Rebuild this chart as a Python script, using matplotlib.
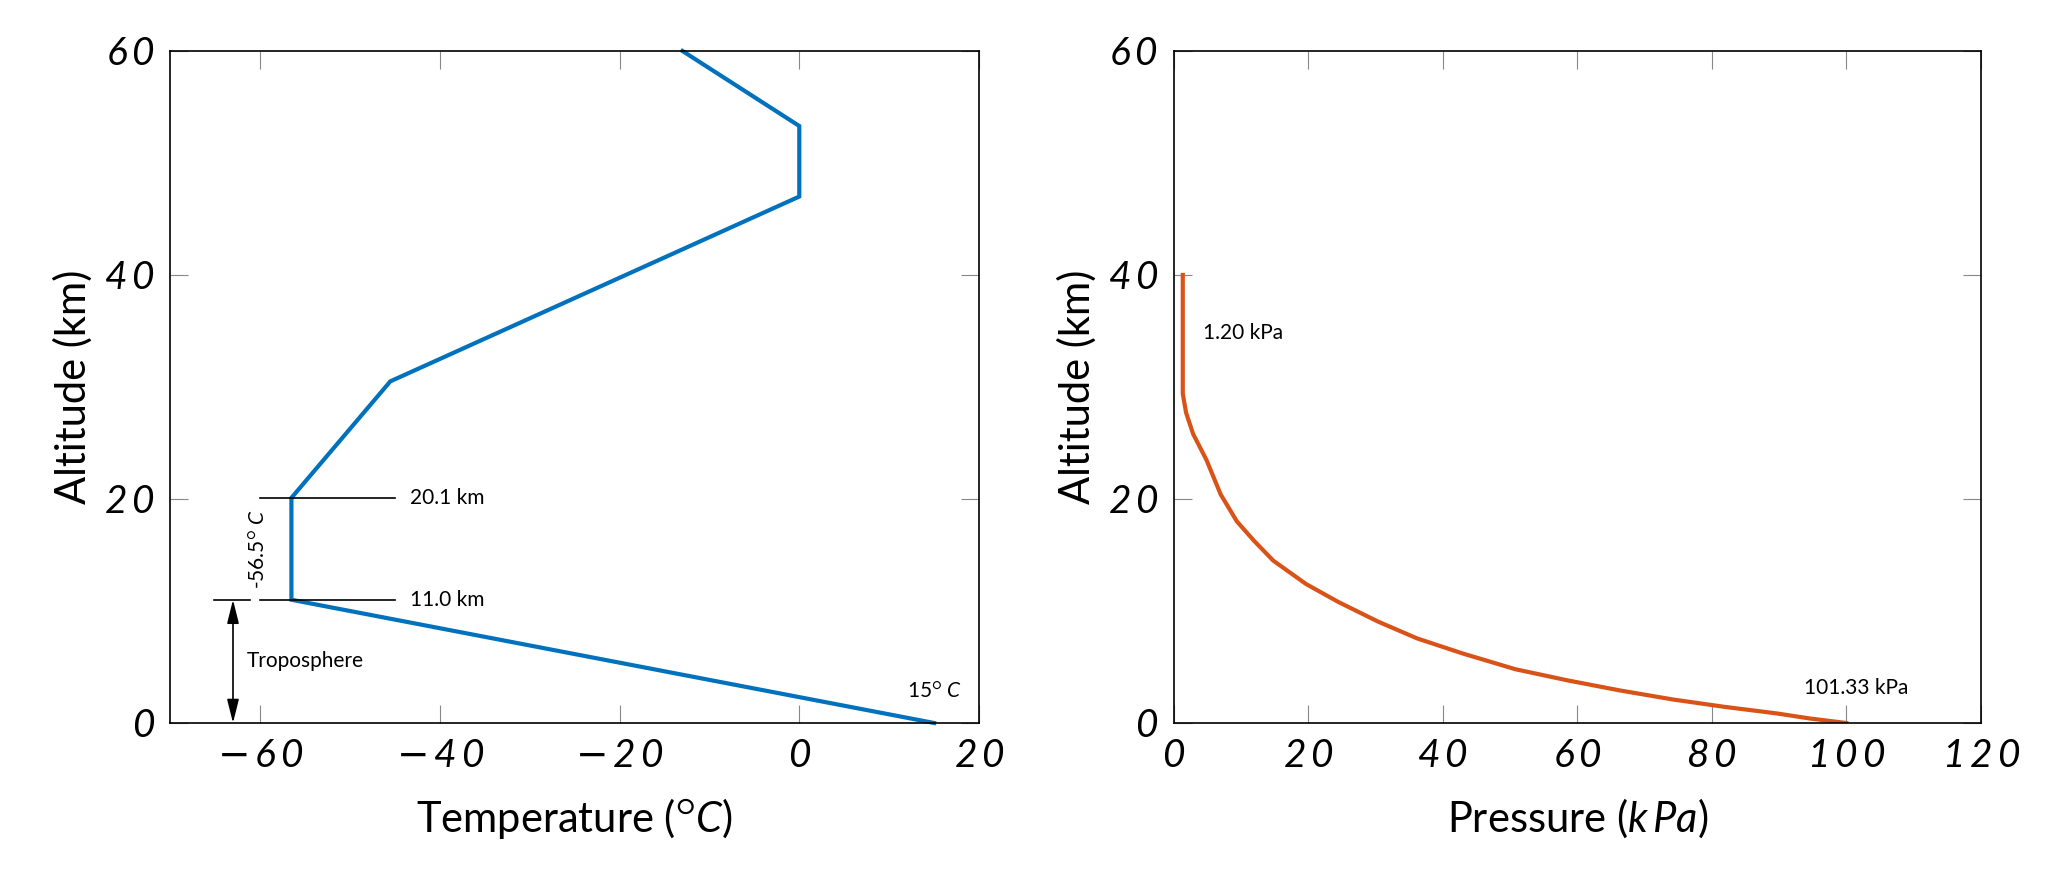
import matplotlib
matplotlib.use("Agg")
import matplotlib.pyplot as plt

plt.rcParams["font.family"] = ["Lato", "DejaVu Sans"]
plt.rcParams["mathtext.fontset"] = "custom"
# math digits in the original are italic, so roman math maps to Lato italic too
plt.rcParams["mathtext.rm"] = "Lato:italic"
plt.rcParams["mathtext.it"] = "Lato:italic"
plt.rcParams["mathtext.sf"] = "DejaVu Sans"

# temperature profile (deg C vs km)
temp_c = [15.0, -56.5, -56.5, -45.5, 0.0, 0.0, -13.0]
temp_alt = [0.0, 11.0, 20.1, 30.5, 47.0, 53.3, 60.0]

# pressure profile (kPa vs km)
pres_kpa = [100.0, 94.6, 89.7, 81.9, 74.2, 66.4, 58.6, 50.8, 43.0, 36.2,
            30.4, 24.5, 19.7, 14.8, 11.9, 9.4, 7.0, 4.87, 2.9, 1.85, 1.36, 1.36]
pres_alt = [0.0, 0.4, 0.85, 1.44, 2.1, 2.9, 3.8, 4.8, 6.2, 7.55,
            9.05, 10.8, 12.4, 14.5, 16.3, 18.0, 20.4, 23.5, 25.8, 27.7, 29.4, 40.0]

temp_ticks = [-60, -40, -20, 0, 20]
pres_ticks = [0, 20, 40, 60, 80, 100, 120]
alt_ticks = [0, 20, 40, 60]

BLUE = "#0072BD"
ORANGE = "#D95319"


def fmt(v):
    digits = r"\,".join(str(abs(v)))
    if v < 0:
        return r"$\mathsf{-}\," + digits + "$"
    return "$" + digits + "$"


def style_axes(ax, xticks):
    ax.set_xticks(xticks)
    ax.set_yticks(alt_ticks)
    ax.set_xticklabels([fmt(v) for v in xticks], fontsize=28)
    ax.set_yticklabels([fmt(v) for v in alt_ticks], fontsize=28)
    ax.tick_params(direction="in", length=13, width=0.8, color="#888888",
                   top=True, right=True, pad=11)
    for s in ax.spines.values():
        s.set_linewidth(1.2)
    ax.set_ylim(0, 60)
    ax.set_ylabel("Altitude (km)", fontsize=30, labelpad=8)


fig = plt.figure(figsize=(20.59, 8.74), dpi=100)
ax1 = fig.add_axes([0.0826, 0.1728, 0.3929, 0.7689])
ax2 = fig.add_axes([0.5700, 0.1728, 0.3920, 0.7689])

# left: temperature
ax1.plot(temp_c, temp_alt, color=BLUE, lw=3, solid_joinstyle="miter", clip_on=False)
ax1.set_xlim(-70, 20)
style_axes(ax1, temp_ticks)
ax1.set_xlabel(r"Temperature ($^{\bigcirc}C$)", fontsize=30, labelpad=16)

ax1.plot([-60, -45], [20.1, 20.1], color="black", lw=1.2)
ax1.plot([-60, -45], [11.0, 11.0], color="black", lw=1.2)
ax1.plot([-65.1, -61.1], [11.0, 11.0], color="black", lw=1.2)
ax1.annotate("", xy=(-63, 0), xytext=(-63, 11),
             arrowprops=dict(arrowstyle="<|-|>,head_width=0.2,head_length=0.8",
                             color="black", lw=1.2,
                             mutation_scale=18, shrinkA=0, shrinkB=0))
ax1.text(-43.3, 20.1, "20.1 km", fontsize=15, va="center", ha="left")
ax1.text(-43.3, 11.0, "11.0 km", fontsize=15, va="center", ha="left")
ax1.text(-61.5, 5.5, "Troposphere", fontsize=15, va="center", ha="left")
ax1.text(-60.1, 15.5, r"-56.5$^{\bigcirc}$ $C$", fontsize=15, va="center",
         ha="center", rotation=90)
ax1.text(18.1, 2.8, r"15$^{\bigcirc}$ $C$", fontsize=15, va="center", ha="right")

# right: pressure
ax2.plot(pres_kpa, pres_alt, color=ORANGE, lw=3)
ax2.set_xlim(0, 120)
style_axes(ax2, pres_ticks)
ax2.set_xlabel(r"Pressure ($k\,Pa$)", fontsize=30, labelpad=16)
ax2.text(4.3, 34.8, "1.20 kPa", fontsize=15, va="center", ha="left")
ax2.text(101.5, 3.1, "101.33 kPa", fontsize=15, va="center", ha="center")

fig.savefig("out.png", dpi=100)
